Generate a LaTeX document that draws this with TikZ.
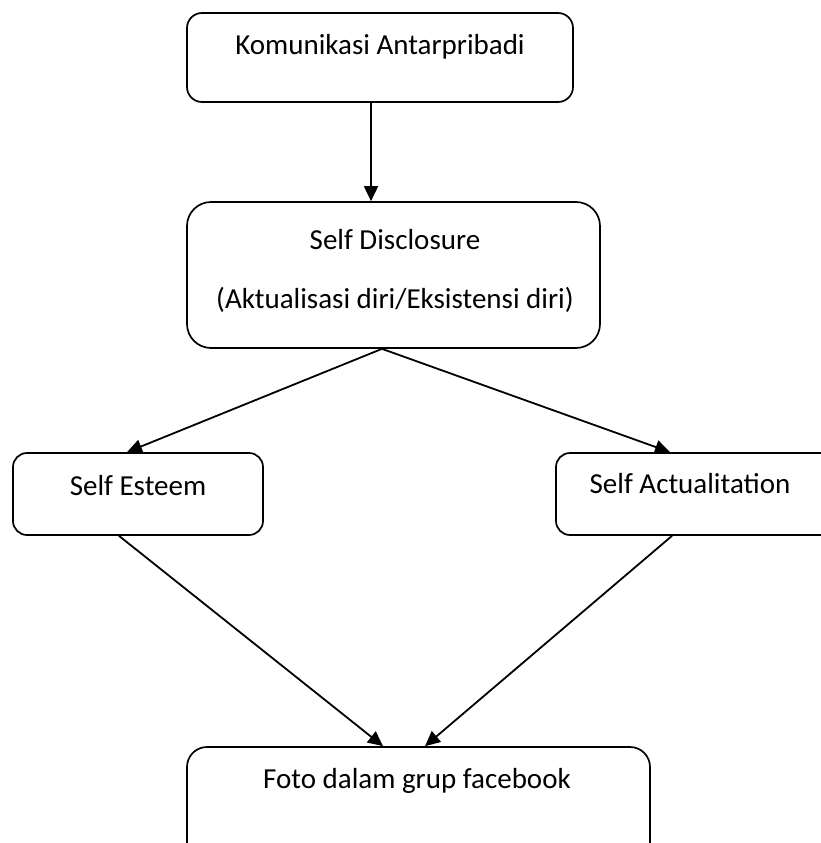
\documentclass[tikz,border=0pt]{standalone}
\usepackage{fontspec}
\setmainfont{Carlito}
\usetikzlibrary{arrows.meta}
\begin{document}
\begin{tikzpicture}[x=1pt,y=-1pt,
  box/.style={draw=black, line width=1.7pt, rounded corners=#1, inner sep=0pt},
  box/.default=16pt,
  lbl/.style={anchor=base, inner sep=0pt, font=\fontsize{29}{35}\selectfont},
  conn/.style={line width=1.8pt, -{Triangle[length=15pt,width=14pt]}}]
\useasboundingbox (0,0) rectangle (821,843);
\clip (0,0) rectangle (821,843);
\node[box=15pt, minimum width=386pt, minimum height=89pt] (b1) at (380,57.5) {};
\node[box=24pt, minimum width=413pt, minimum height=146pt] (b2) at (393.5,275) {};
\node[box=14pt, minimum width=250pt, minimum height=82pt] (b3) at (138,494) {};
\node[box=14pt, minimum width=284pt, minimum height=82pt] (b4) at (698,494) {};
\node[box=20pt, minimum width=463pt, minimum height=133pt] (b5) at (418.5,813.5) {};
\node[lbl] (t1) at (380,55) {Komunikasi Antarpribadi};
\node[lbl] (t2a) at (395,249) {Self Disclosure};
\node[lbl] (t2b) at (395,308) {(Aktualisasi diri/Eksistensi diri)};
\node[lbl] (t3) at (138,495) {Self Esteem};
\node[lbl] (t4) at (690,493) {Self Actualitation};
\node[lbl] (t5) at (417,788) {Foto dalam grup facebook};
\draw[conn] ([xshift=-9pt]b1.south) -- ([xshift=-22.5pt]b2.north);
\draw[conn] ([xshift=-11.5pt]b2.south) -- ([xshift=-11pt]b3.north);
\draw[conn] ([xshift=-11.5pt]b2.south) -- ([xshift=-28pt]b4.north);
\draw[conn] ([xshift=-19pt]b3.south) -- ([xshift=-35.5pt]b5.north);
\draw[conn] ([xshift=-26pt]b4.south) -- ([xshift=6.5pt]b5.north);
\end{tikzpicture}
\end{document}
